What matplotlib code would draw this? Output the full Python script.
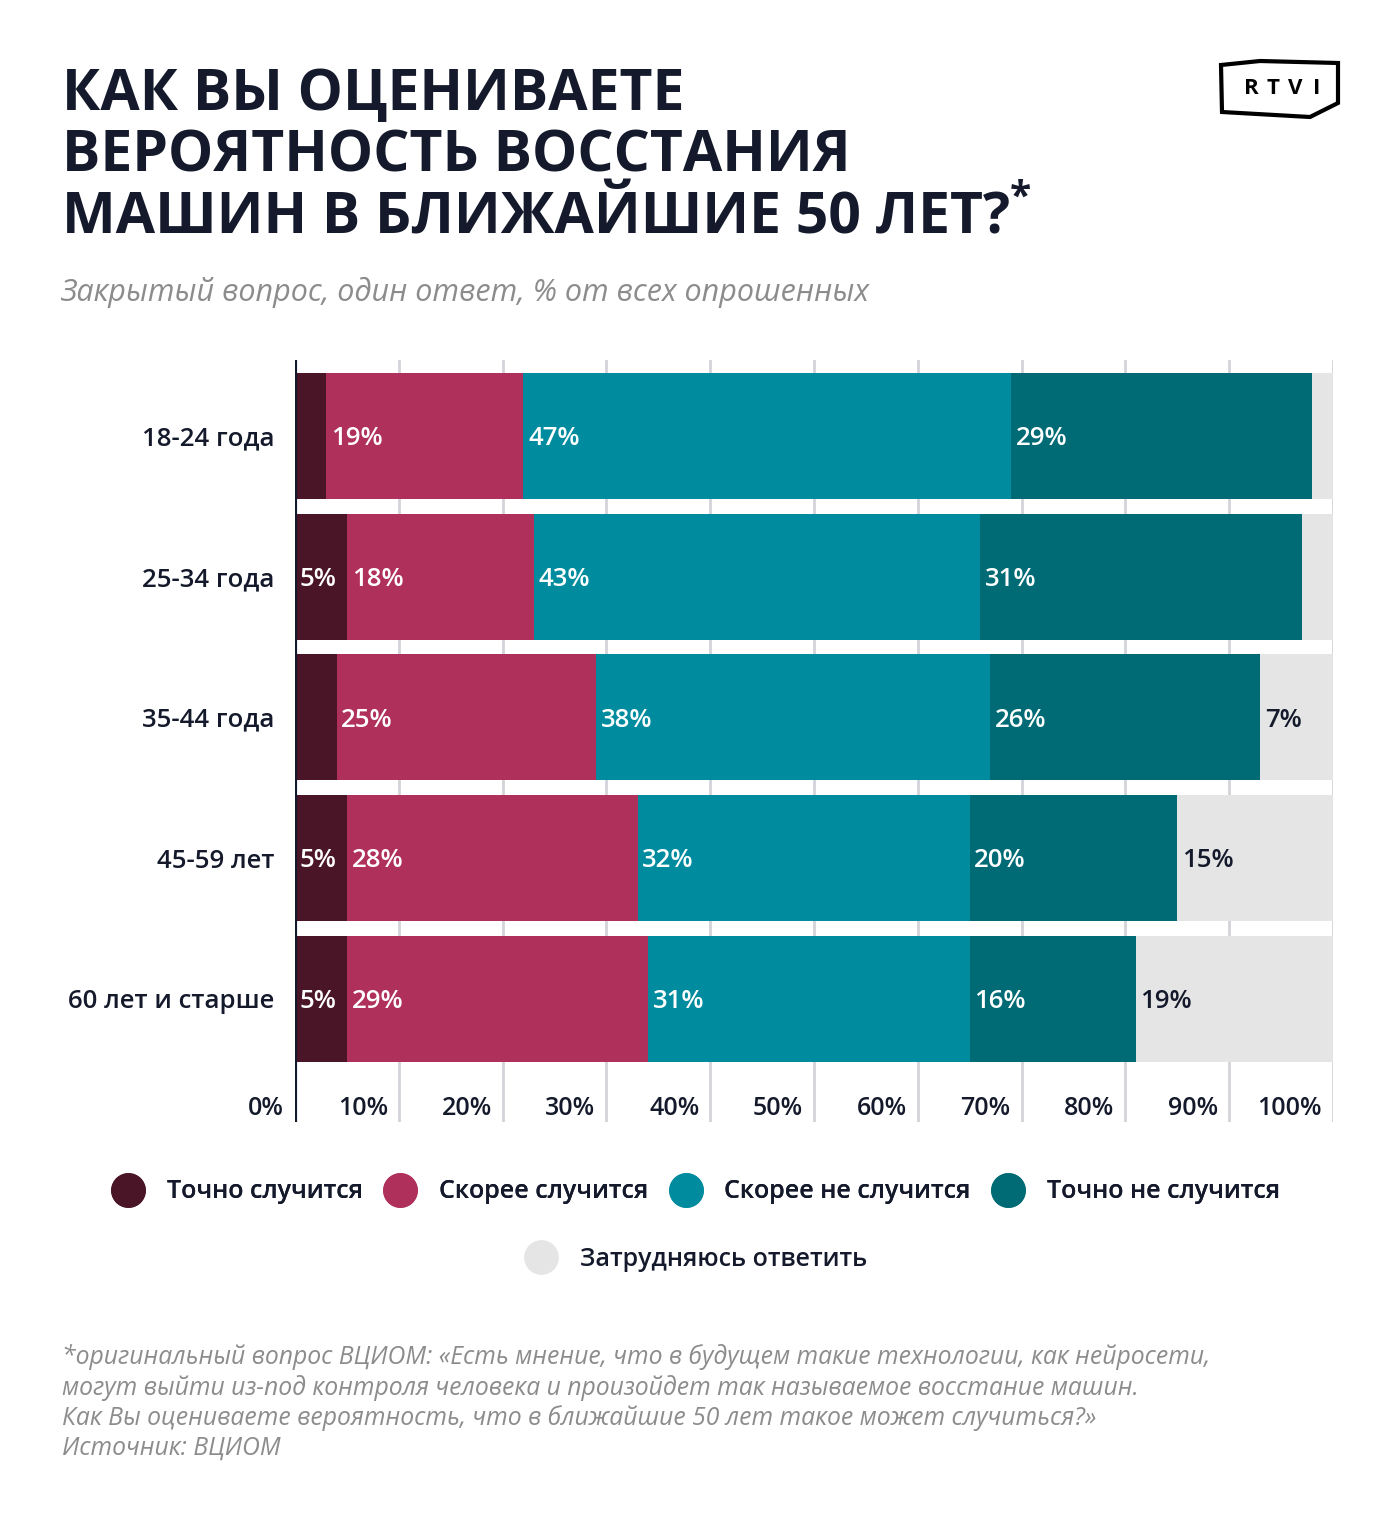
import matplotlib
matplotlib.use("Agg")
import matplotlib.pyplot as plt
from matplotlib.lines import Line2D
from matplotlib.patches import Polygon

plt.rcParams['font.family'] = ['Open Sans', 'DejaVu Sans']

groups = ["18-24 года", "25-34 года", "35-44 года", "45-59 лет", "60 лет и старше"]
series = ["Точно случится", "Скорее случится", "Скорее не случится",
          "Точно не случится", "Затрудняюсь ответить"]
vals = {
    "Точно случится":       [3, 5, 4, 5, 5],
    "Скорее случится":      [19, 18, 25, 28, 29],
    "Скорее не случится":   [47, 43, 38, 32, 31],
    "Точно не случится":    [29, 31, 26, 20, 16],
    "Затрудняюсь ответить": [2, 3, 7, 15, 19],
}
colors = ["#4a1527", "#b0305c", "#008c9e", "#006b75", "#e5e5e5"]
txtcol = ["white", "white", "white", "white", "#141a2b"]
ticks = [0, 10, 20, 30, 40, 50, 60, 70, 80, 90, 100]

dark = "#141a2b"

fig = plt.figure(figsize=(14, 15.14), dpi=100)
ax = fig.add_axes([295/1400, 1-1122/1514, 1038/1400, 762/1514])

ys = list(range(len(groups)))
left = [0]*len(groups)
for s, c, tc in zip(series, colors, txtcol):
    v = vals[s]
    ax.barh(ys, v, left=left, height=0.895, color=c, zorder=2)
    for y, l, w in zip(ys, left, v):
        if w >= 5:
            ax.text(l + 0.45, y + 0.02, f"{w}%", color=tc, fontsize=18.5, fontweight='semibold',
                    va='center', ha='left', zorder=3)
    left = [a + b for a, b in zip(left, v)]

ax.set_xlim(0, 100)
ax.set_ylim(4.876, -0.54)
for t in ticks[1:]:
    ax.axvline(t, color="#d3d3da", lw=2, zorder=1)
for t in ticks:
    ax.text(t - 1.05, 4.78, f"{t}%", color=dark, fontsize=18, fontweight='semibold',
            ha='right', va='center')
ax.axvline(0, color=dark, lw=3, zorder=4)

ax.set_yticks(ys)
ax.set_yticklabels(groups, fontsize=18.5, color=dark, fontweight='semibold')
ax.tick_params(axis='y', length=0, pad=15)
ax.set_xticks([])
for sp in ax.spines.values():
    sp.set_visible(False)

# title and subtitle
fig.text(62/1400, 1-66/1514, "КАК ВЫ ОЦЕНИВАЕТЕ\nВЕРОЯТНОСТЬ ВОССТАНИЯ\nМАШИН В БЛИЖАЙШИЕ 50 ЛЕТ?",
         fontsize=41, fontweight='bold', color=dark, va='top', ha='left', linespacing=1.09)
fig.text(1010/1400, 1-198/1514, "*", fontsize=28, fontweight='bold', color=dark,
         va='center', ha='left')
fig.text(60/1400, 1-292/1514, "Закрытый вопрос, один ответ, % от всех опрошенных",
         fontsize=22, style='italic', color="#8c8c8c", va='center', ha='left')

# legend
handles = [Line2D([], [], marker='o', ls='', markersize=24, color=c) for c in colors]
leg1 = fig.legend(handles[:4], series[:4], loc='center', bbox_to_anchor=(0.494, 1-1192/1514),
                  ncol=4, frameon=False, handletextpad=0.55, columnspacing=0.5,
                  labelcolor=dark, prop={'weight': 'semibold', 'size': 18})
fig.add_artist(leg1)
fig.legend(handles[4:], series[4:], loc='center', bbox_to_anchor=(0.494, 1-1259/1514),
           frameon=False, handletextpad=0.55, labelcolor=dark,
           prop={'weight': 'semibold', 'size': 18})

# footnote
fig.text(62/1400, 1-1344/1514,
         "*оригинальный вопрос ВЦИОМ: «Есть мнение, что в будущем такие технологии, как нейросети,\n"
         "могут выйти из-под контроля человека и произойдет так называемое восстание машин.\n"
         "Как Вы оцениваете вероятность, что в ближайшие 50 лет такое может случиться?»\n"
         "Источник: ВЦИОМ",
         fontsize=17.8, style='italic', color="#8c8c8c", va='top', ha='left', linespacing=1.23)

# logo
pts = [(1221, 65), (1260, 61), (1338, 63), (1338, 103), (1310, 117), (1222, 112)]
fig.add_artist(Polygon([(x/1400, 1-y/1514) for x, y in pts], closed=True, fill=False,
                       ec="black", lw=3, transform=fig.transFigure))
for i, ch in enumerate("RTVI"):
    fig.text((1251 + i*22)/1400, 1-89/1514, ch, fontsize=16, fontweight='bold',
             color="black", ha='center', va='center')

fig.savefig("out.png", dpi=100, facecolor="white")
